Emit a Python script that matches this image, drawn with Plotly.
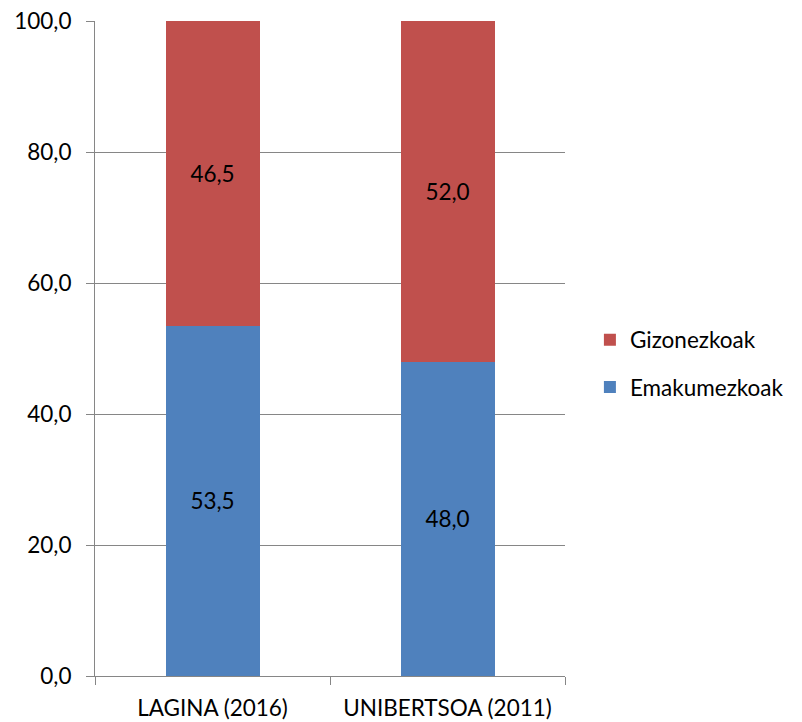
import plotly.graph_objects as go

categories = ["LAGINA (2016)", "UNIBERTSOA (2011)"]
emakumezkoak = [53.5, 48.0]
gizonezkoak = [46.5, 52.0]
y_ticks = [0, 20, 40, 60, 80, 100]

FONT = "Lato, Carlito, Calibri, sans-serif"
FS = 22.5

fig = go.Figure()
fig.add_trace(go.Bar(
    x=categories, y=emakumezkoak, name="Emakumezkoak",
    marker=dict(color="#4F81BD", line=dict(width=0)),
    texttemplate="%{y:.1f}", textposition="inside", insidetextanchor="middle",
    textfont=dict(color="black", size=FS, family=FONT),
    legendgroup="e", legendrank=2, hoverinfo="skip",
))
fig.add_trace(go.Bar(
    x=categories, y=gizonezkoak, name="Gizonezkoak",
    marker=dict(color="#C0504D", line=dict(width=0)),
    texttemplate="%{y:.1f}", textposition="inside", insidetextanchor="middle",
    textfont=dict(color="black", size=FS, family=FONT),
    legendgroup="g", legendrank=1, hoverinfo="skip",
))

fig.update_layout(
    barmode="stack",
    bargap=0.6,
    width=802, height=722,
    margin=dict(l=95, r=237, t=21, b=46, autoexpand=False),
    paper_bgcolor="white", plot_bgcolor="white",
    separators=",.",
    font=dict(family=FONT, size=FS, color="black"),
    showlegend=True,
    legend=dict(
        x=1.053, xanchor="left", y=0.477, yanchor="middle",
        traceorder="grouped", tracegroupgap=15,
        font=dict(size=FS, family=FONT, color="black"),
        itemwidth=30,
    ),
)
fig.update_xaxes(
    type="category", automargin=False,
    showline=True, linecolor="#868686", linewidth=1,
    ticks="outside", tickson="boundaries", ticklen=8, tickcolor="#868686",
    ticklabelstandoff=12,
    showgrid=False, zeroline=False,
    tickfont=dict(size=FS, family=FONT, color="black"),
)
fig.update_yaxes(
    range=[0, 100], tickvals=y_ticks, tickformat=".1f", automargin=False,
    showline=True, linecolor="#868686", linewidth=1,
    ticks="outside", ticklen=8, tickcolor="#868686",
    ticklabelstandoff=10,
    showgrid=True, gridcolor="#868686", gridwidth=1,
    zeroline=False,
    tickfont=dict(size=FS, family=FONT, color="black"),
)

fig.write_html(
    "out.html",
    config={"displayModeBar": False},
    post_script="document.body.style.margin='0';",
)
